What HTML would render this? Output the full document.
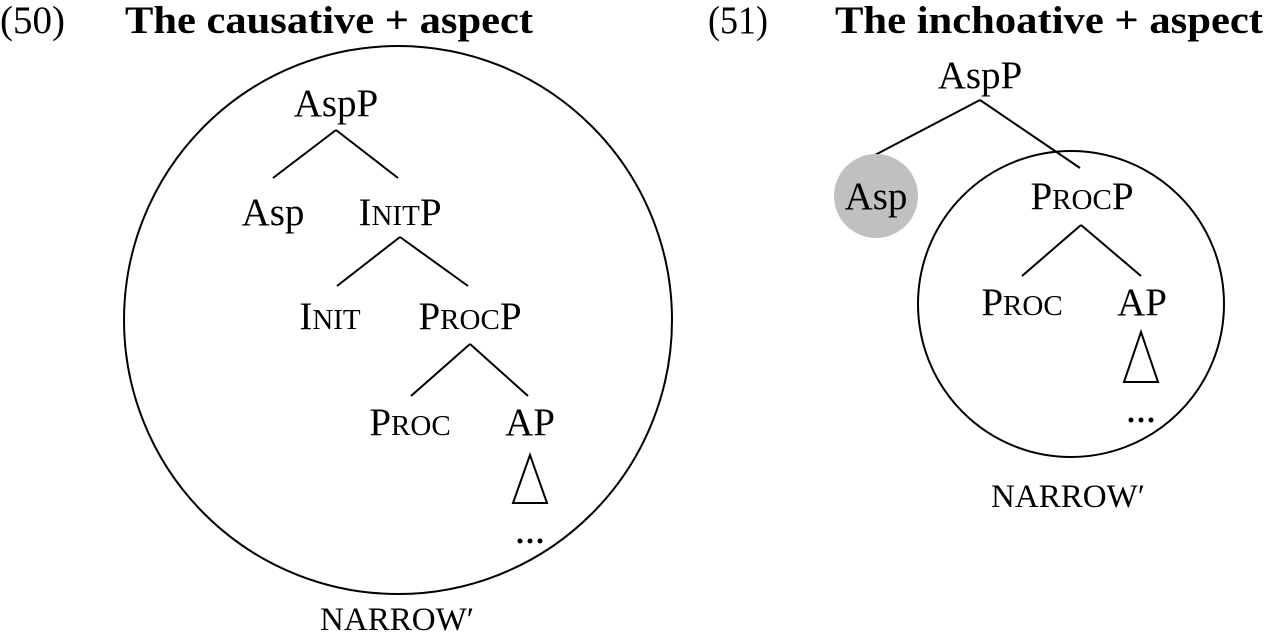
<!DOCTYPE html>
<html><head><meta charset="utf-8"><style>
html,body{margin:0;padding:0;background:#fff;}
svg{display:block;}
text{font-family:"Liberation Serif",serif;font-size:39px;fill:#000;}
.b{font-family:"Liberation Serif",serif;font-weight:bold;}
.n{font-size:33px;}
</style></head><body>
<svg width="1265" height="639" viewBox="0 0 1265 639" xmlns="http://www.w3.org/2000/svg">
<g stroke="#000" stroke-width="2" fill="none">
<circle cx="398" cy="320" r="274"/>
<circle cx="1071" cy="304" r="153"/>
<line x1="336" y1="130" x2="273" y2="178"/><line x1="336" y1="130" x2="398" y2="178"/>
<line x1="400" y1="237" x2="337" y2="286"/><line x1="400" y1="237" x2="468" y2="286"/>
<line x1="470" y1="344" x2="411" y2="396"/><line x1="470" y1="344" x2="528" y2="396"/>
<polygon points="530,455 513,503 547,503"/>
<line x1="980" y1="100" x2="875" y2="155"/><line x1="980" y1="100" x2="1080" y2="168"/>
<line x1="1081" y1="225" x2="1022" y2="276"/><line x1="1081" y1="225" x2="1141" y2="276"/>
<polygon points="1141,332 1124,382 1158,382"/>
</g>
<circle cx="876" cy="196" r="42" fill="#c0c0c0"/>
<g fill="#000">
<circle cx="520" cy="541" r="2.5"/><circle cx="530" cy="541" r="2.5"/><circle cx="540" cy="541" r="2.5"/>
<circle cx="1131" cy="420" r="2.5"/><circle cx="1141" cy="420" r="2.5"/><circle cx="1151" cy="420" r="2.5"/>
</g>
<text x="0" y="33" textLength="65" lengthAdjust="spacingAndGlyphs">(50)</text>
<text x="125" y="33" class="b" textLength="408" lengthAdjust="spacingAndGlyphs">The causative + aspect</text>
<text x="708" y="33" textLength="60" lengthAdjust="spacingAndGlyphs">(51)</text>
<text x="835" y="33" class="b" textLength="428" lengthAdjust="spacingAndGlyphs">The inchoative + aspect</text>
<g text-anchor="middle">
<text x="336" y="116">AspP</text>
<text x="273" y="225">Asp</text>
<text x="400" y="225">I<tspan font-size="29">NIT</tspan>P</text>
<text x="330" y="329">I<tspan font-size="29">NIT</tspan></text>
<text x="470" y="329">P<tspan font-size="29">ROC</tspan>P</text>
<text x="410" y="435">P<tspan font-size="29">ROC</tspan></text>
<text x="530" y="435">AP</text>
<text x="397" y="630" class="n">NARROW′</text>
<text x="980" y="88">AspP</text>
<text x="876" y="209">Asp</text>
<text x="1082" y="209">P<tspan font-size="29">ROC</tspan>P</text>
<text x="1022" y="315">P<tspan font-size="29">ROC</tspan></text>
<text x="1142" y="315">AP</text>
<text x="1068" y="507" class="n">NARROW′</text>
</g>
</svg>
</body></html>
